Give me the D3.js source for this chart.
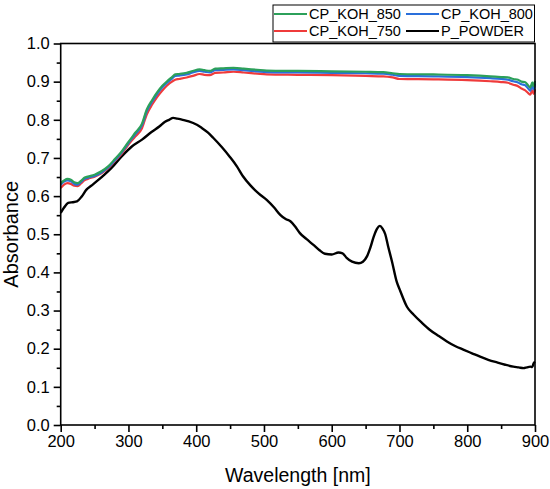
<!DOCTYPE html>
<html><head><meta charset="utf-8">
<script src="https://cdn.jsdelivr.net/npm/d3@7"></script>
<style>body{margin:0;background:#fff}svg{display:block}text{font-family:"Liberation Sans",Arial,sans-serif}</style>
</head><body><svg id="c" width="550" height="489"></svg>
<script>
const cpWavelength = [200,205,210,215,220,225,230,235,240,250,260,270,280,290,300,310,320,327,335,342,350,357,365,369,375,386,395,405,412,420,428,440,455,470,490,504,550,600,650,676,690,700,750,800,834,850,860,868,875,880,885,890,893,896,898,900];
const koh850 = [0.634,0.641,0.645,0.643,0.636,0.634,0.640,0.648,0.651,0.656,0.665,0.678,0.697,0.717,0.742,0.766,0.790,0.827,0.852,0.871,0.889,0.901,0.913,0.919,0.920,0.923,0.928,0.932,0.930,0.928,0.934,0.935,0.936,0.934,0.931,0.929,0.928,0.927,0.926,0.925,0.922,0.920,0.919,0.917,0.914,0.912,0.911,0.907,0.905,0.900,0.899,0.890,0.884,0.898,0.888,0.902];
const koh800 = [0.630,0.638,0.641,0.639,0.632,0.630,0.637,0.645,0.648,0.653,0.662,0.675,0.694,0.714,0.739,0.762,0.786,0.822,0.848,0.867,0.885,0.897,0.909,0.915,0.916,0.919,0.924,0.928,0.926,0.924,0.930,0.931,0.932,0.930,0.927,0.925,0.924,0.923,0.922,0.921,0.918,0.915,0.914,0.912,0.909,0.907,0.905,0.901,0.898,0.893,0.891,0.882,0.876,0.890,0.880,0.895];
const koh750 = [0.621,0.630,0.634,0.632,0.627,0.626,0.633,0.641,0.645,0.651,0.660,0.673,0.692,0.711,0.735,0.756,0.778,0.814,0.840,0.859,0.877,0.890,0.901,0.905,0.907,0.911,0.915,0.920,0.918,0.917,0.923,0.924,0.926,0.924,0.921,0.919,0.918,0.917,0.915,0.914,0.911,0.907,0.906,0.904,0.901,0.899,0.897,0.892,0.888,0.882,0.878,0.870,0.866,0.878,0.868,0.880];
const powder = [[200,0.556],[205,0.570],[211,0.582],[218,0.584],[224,0.586],[231,0.599],[238,0.617],[245,0.627],[256,0.643],[265,0.657],[275,0.674],[290,0.704],[305,0.730],[320,0.748],[334,0.768],[346,0.783],[354,0.795],[360,0.800],[366,0.805],[372,0.803],[380,0.800],[389,0.796],[401,0.787],[408,0.779],[417,0.767],[425,0.753],[438,0.728],[450,0.702],[460,0.678],[469,0.652],[480,0.628],[492,0.607],[504,0.590],[515,0.570],[524,0.551],[532,0.540],[539,0.534],[546,0.520],[553,0.503],[563,0.487],[573,0.472],[582,0.458],[590,0.449],[600,0.447],[610,0.452],[616,0.450],[622,0.438],[630,0.428],[640,0.424],[646,0.428],[652,0.442],[657,0.465],[662,0.494],[667,0.515],[671,0.522],[675,0.515],[679,0.500],[683,0.470],[689,0.428],[696,0.375],[701,0.352],[711,0.310],[721,0.289],[733,0.268],[745,0.249],[758,0.233],[770,0.219],[782,0.207],[795,0.197],[807,0.188],[819,0.179],[831,0.171],[844,0.164],[856,0.158],[868,0.153],[876,0.151],[883,0.149],[888,0.151],[893,0.153],[896,0.152],[898,0.162],[900,0.166]];
const xTicks = [200,300,400,500,600,700,800,900];
const yTicks = [0,0.1,0.2,0.3,0.4,0.5,0.6,0.7,0.8,0.9,1.0];

const series = [
  {name:"CP_KOH_750", color:"#ef3b3b", vals:koh750},
  {name:"CP_KOH_800", color:"#2a6fdb", vals:koh800},
  {name:"CP_KOH_850", color:"#2ca05a", vals:koh850}
];

const L=60.7, R=535, T=43.5, B=425;
const svg = d3.select("#c");
const x = d3.scaleLinear().domain([200,900]).range([L,R]);
const y = d3.scaleLinear().domain([0,1]).range([B,T]);
const line = d3.line().x(d=>x(d[0])).y(d=>y(d[1])).curve(d3.curveMonotoneX);

svg.append("path").datum(powder).attr("d",line).attr("fill","none").attr("stroke","#000").attr("stroke-width",2.4);
series.forEach(s=>{
  const pts = cpWavelength.map((w,i)=>[w,s.vals[i]]);
  svg.append("path").datum(pts).attr("d",line).attr("fill","none").attr("stroke",s.color).attr("stroke-width",2.2);
});

svg.append("rect").attr("x",L).attr("y",T).attr("width",R-L).attr("height",B-T).attr("fill","none").attr("stroke","#000").attr("stroke-width",1.6);

const xa = svg.append("g").attr("transform",`translate(0,${B})`)
  .call(d3.axisBottom(x).tickValues(xTicks).tickSize(7).tickPadding(3).tickFormat(d3.format("d")));
const xm = svg.append("g").attr("transform",`translate(0,${B})`)
  .call(d3.axisBottom(x).tickValues(d3.range(250,900,100)).tickSize(4).tickFormat(""));
const ya = svg.append("g").attr("transform",`translate(${L},0)`)
  .call(d3.axisLeft(y).tickValues(yTicks).tickSize(7).tickPadding(4).tickFormat(d3.format(".1f")));
const ym = svg.append("g").attr("transform",`translate(${L},0)`)
  .call(d3.axisLeft(y).tickValues(d3.range(0.05,1,0.1)).tickSize(4).tickFormat(""));
[xa,xm,ya,ym].forEach(g=>{
  g.select(".domain").remove();
  g.selectAll("line").attr("stroke","#000").attr("stroke-width",1.6);
  g.selectAll("text").attr("font-size",16.5).attr("fill","#000").attr("font-family","'Liberation Sans',Arial,sans-serif");
});

svg.append("text").attr("x",(L+R)/2).attr("y",482).attr("text-anchor","middle").attr("font-size",19.5).text("Wavelength [nm]");
svg.append("text").attr("transform",`translate(18,${(T+B)/2}) rotate(-90)`).attr("text-anchor","middle").attr("font-size",20).text("Absorbance");

const legend = [
  {name:"CP_KOH_850", color:"#2ca05a", col:0, row:0},
  {name:"CP_KOH_800", color:"#2a6fdb", col:1, row:0},
  {name:"CP_KOH_750", color:"#ef3b3b", col:0, row:1},
  {name:"P_POWDER", color:"#000", col:1, row:1}
];
svg.append("rect").attr("x",273).attr("y",5).attr("width",261.5).attr("height",37).attr("fill","#fff").attr("stroke","#000").attr("stroke-width",1);
const lx=[274,406], ly=[14,31];
legend.forEach(d=>{
  svg.append("line").attr("x1",lx[d.col]).attr("x2",lx[d.col]+33).attr("y1",ly[d.row]).attr("y2",ly[d.row]).attr("stroke",d.color).attr("stroke-width",2);
  svg.append("text").attr("x",lx[d.col]+35).attr("y",ly[d.row]+5).attr("font-size",14.5).text(d.name);
});
</script></body></html>
